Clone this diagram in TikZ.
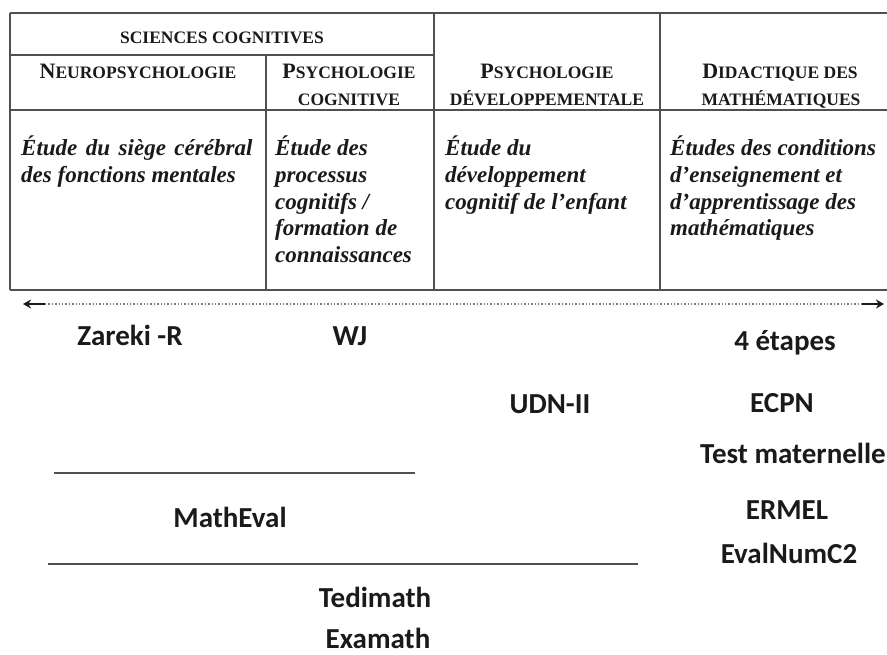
\documentclass[tikz,border=0pt]{standalone}
\usepackage{fontspec}
\setmainfont{Liberation Serif}
\newfontfamily\calib{Carlito}
\usetikzlibrary{arrows.meta}
\definecolor{rule}{HTML}{505050}
\definecolor{ink}{HTML}{1A1A1A}
\newcommand\hsc[2]{{\fontsize{22}{24}\selectfont #1}{\fontsize{17.5}{20}\selectfont #2}}
\newcommand\ssc[1]{{\fontsize{17.5}{20}\selectfont #1}}
\newcommand\wsp{\hspace{8.5pt}}
\tikzset{
  tabline/.style={draw=rule, line width=1.8pt},
  head/.style={inner sep=0pt, anchor=base, font=\bfseries, text=ink},
  body/.style={inner sep=0pt, anchor=north west, align=left, text=ink,
    font=\fontsize{23}{26.6}\selectfont\bfseries\itshape},
  tool/.style={inner sep=0pt, anchor=base, text=ink, font=\calib\fontsize{29}{32}\selectfont\bfseries},
  sepline/.style={draw=rule, line width=2.4pt},
  dotline/.style={draw=gray, line width=1.4pt, dotted},
  tip/.style={draw=ink, line width=1.8pt, -{Stealth[length=8pt,width=9pt]}}
}
\begin{document}
\begin{tikzpicture}[x=1pt,y=-1pt]
\useasboundingbox (0,0) rectangle (887,654);
% table rules
\coordinate (tl) at (10,13);
\coordinate (tr) at (890,13);
\coordinate (bl) at (10,290);
\coordinate (br) at (890,290);
\coordinate (hl) at (10,110);
\coordinate (hr) at (890,110);
\coordinate (sl) at (10,55);
\coordinate (sr) at (434,55);
\coordinate (v1t) at (266,55);
\coordinate (v1b) at (266,290);
\coordinate (v2t) at (434,13);
\coordinate (v2b) at (434,290);
\coordinate (v3t) at (660,13);
\coordinate (v3b) at (660,290);
\draw[tabline] (tl) -- (tr);
\draw[tabline] (bl) -- (br);
\draw[tabline] (tl) -- (bl);
\draw[tabline] (hl) -- (hr);
\draw[tabline] (sl) -- (sr);
\draw[tabline] (v1t) -- (v1b);
\draw[tabline] (v2t) -- (v2b);
\draw[tabline] (v3t) -- (v3b);
% headers
\node[head] (sci) at (222,43) {\ssc{SCIENCES COGNITIVES}};
\node[head] (neuro) at (138,78) {\hsc{N}{EUROPSYCHOLOGIE}};
\node[head] (psy1) at (349,78) {\hsc{P}{SYCHOLOGIE}};
\node[head] (psy1b) at (349,105) {\ssc{COGNITIVE}};
\node[head] (psy2) at (547,78) {\hsc{P}{SYCHOLOGIE}};
\node[head] (psy2b) at (547,105) {\ssc{DÉVELOPPEMENTALE}};
\node[head] (did) at (780,78) {\hsc{D}{IDACTIQUE DES}};
\node[head] (didb) at (781,105) {\ssc{MATHÉMATIQUES}};
% bodies
\node[body] (b1) at (21,136) {Étude\wsp du\wsp siège\wsp cérébral\\des fonctions mentales};
\node[body] (b2) at (275,136) {Étude des\\processus\\cognitifs /\\formation de\\connaissances};
\node[body] (b3) at (445,136) {Étude du\\développement\\cognitif de l’enfant};
\node[body] (b4) at (670,136) {Études des conditions\\d’enseignement et\\d’apprentissage des\\mathématiques};
% arrow
\coordinate (al) at (23,304);
\coordinate (al2) at (45,304);
\coordinate (ar2) at (862,304);
\coordinate (ar) at (884,304);
\draw[dotline] (al2) -- (ar2);
\draw[tip] (al2) -- (al);
\draw[tip] (ar2) -- (ar);
% tools
\node[tool] (zareki) at (130,345) {Zareki -R};
\node[tool] (wj) at (350,345) {WJ};
\node[tool] (etapes) at (785,350) {4 étapes};
\node[tool] (udn) at (550,413) {UDN-II};
\node[tool] (ecpn) at (782,412) {ECPN};
\node[tool] (testm) at (793,463) {Test maternelle};
\node[tool] (matheval) at (230,527) {MathEval};
\node[tool] (ermel) at (787,519) {ERMEL};
\node[tool] (evalnum) at (789,563) {EvalNumC2};
\node[tool] (tedimath) at (375,607) {Tedimath};
\node[tool] (examath) at (378,648) {Examath};
% separating lines
\coordinate (l1a) at (54,473);
\coordinate (l1b) at (415,473);
\coordinate (l2a) at (48,564);
\coordinate (l2b) at (638,564);
\draw[sepline] (l1a) -- (l1b);
\draw[sepline] (l2a) -- (l2b);
\end{tikzpicture}
\end{document}
